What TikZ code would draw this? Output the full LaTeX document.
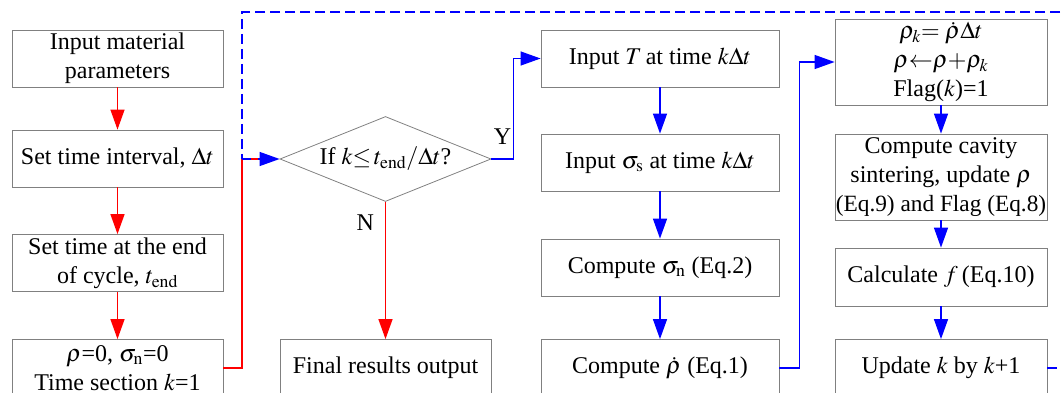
\documentclass[tikz,border=0pt]{standalone}
\usepackage{mathptmx}
\usepackage{fontspec}
\setmainfont{Liberation Serif}
\usetikzlibrary{arrows.meta,positioning,shapes.geometric}

\begin{document}
\begin{tikzpicture}[
  x=1pt,y=-1pt,
  on grid,
  >={Triangle[length=20pt,width=14pt]},
  every node/.style={font=\fontsize{24}{29}\selectfont},
  box/.style={draw=black!50,line width=0.8pt,align=center,inner sep=0pt,minimum height=57pt},
  lbox/.style={box,minimum width=211pt},
  mbox/.style={box,minimum width=238pt},
  rbox/.style={box,minimum width=212pt},
  test/.style={draw=black!50,line width=0.8pt,diamond,aspect=2.5,inner sep=0pt,
    minimum width=211pt,minimum height=85pt},
  answer/.style={text=black,left},
  red line/.style={red,line width=1.3pt},
  blue line/.style={blue,line width=1.3pt}]
  \clip [use as bounding box] (0,0) rectangle (1061,393);

  % set-up steps
  \node [lbox] (mat) at (117.5,58.5) {Input material\\parameters};
  \node [lbox] (dt) [below=100pt of mat] {Set time interval, $\Delta t$};
  \node [lbox] (tend) [below=104.5pt of dt] {Set time at the end\\of cycle, $t_{\mathrm{end}}$};
  \node [lbox] (init) [below=105pt of tend] {$\rho$=0, $\sigma_{\mathrm{n}}$=0\\Time section $k$=1};

  % loop test and exit
  \node [test] (if) at (385.5,159) {If $k{\leq}\,t_{\mathrm{end}}/\Delta t$?};
  \node [lbox] (out) at (385.5,368) {Final results output};

  % inputs at step k
  \node [mbox] (temp) at (660,58.5) {Input $T$\,at time $k\Delta t$};
  \node [mbox] (sigs) [below=104pt of temp] {Input $\sigma_{\mathrm{s}}$ at time $k\Delta t$};
  \node [mbox] (sign) [below=105pt of sigs] {Compute $\sigma_{\mathrm{n}}$ (Eq.2)};
  \node [mbox] (rate) [below=100.5pt of sign] {Compute $\dot{\rho}$ (Eq.1)};

  % damage update
  \node [rbox,minimum height=86pt] (acc) at (941,62)
    {$\rho_k{=}\;\dot{\rho}\Delta t$\\$\rho{\leftarrow}\rho{+}\rho_k$\\Flag($k$)=1};
  \node [rbox,minimum height=86pt] (sint) [below=115pt of acc]
    {Compute cavity\\sintering, update $\rho$\\{\fontsize{23.3}{29}\selectfont(Eq.9) and Flag (Eq.8)}};
  \node [rbox,minimum height=58pt] (frac) [below=100pt of sint] {Calculate $f$\,(Eq.10)};
  \node [rbox] (next) [below=91pt of frac] {Update $k$ by $k$+1};

  \coordinate (jn) at (242,159);
  \coordinate (stub) at (1057,368);
  \coordinate (back) at (1075,12);

  \draw [red line,->] (mat) -- (dt);
  \draw [red line,->] (dt) -- (tend);
  \draw [red line,->] (tend) -- (init);
  \draw [red line] (init.east) -| (jn);
  \draw [blue line,->] (jn) -- (if.west);
  \draw [red line] ([xshift=9pt]jn) -- ([xshift=16pt]jn);
  % return from k+1
  \draw [blue line,dash pattern=on 10pt off 5pt] (back) -| (jn);

  \draw [blue line,->] (if.east) -- ++(22,0) |- (temp.west)
    node [answer,pos=0.11,inner sep=1.5pt] {Y};
  \draw [red line,->] (if.south) -- (out.north)
    node [answer,pos=0.15,inner sep=11pt] {N};

  \draw [blue line,->] (temp) -- (sigs);
  \draw [blue line,->] (sigs) -- (sign);
  \draw [blue line,->] (sign) -- (rate);
  \draw [blue line,->] (rate.east) -- ++(20,0) |- (acc.west);

  \draw [blue line,->] (acc) -- (sint);
  \draw [blue line,->] (sint) -- (frac);
  \draw [blue line,->] (frac) -- (next);
  \draw [blue line] (next.east) -- (stub);
\end{tikzpicture}
\end{document}
